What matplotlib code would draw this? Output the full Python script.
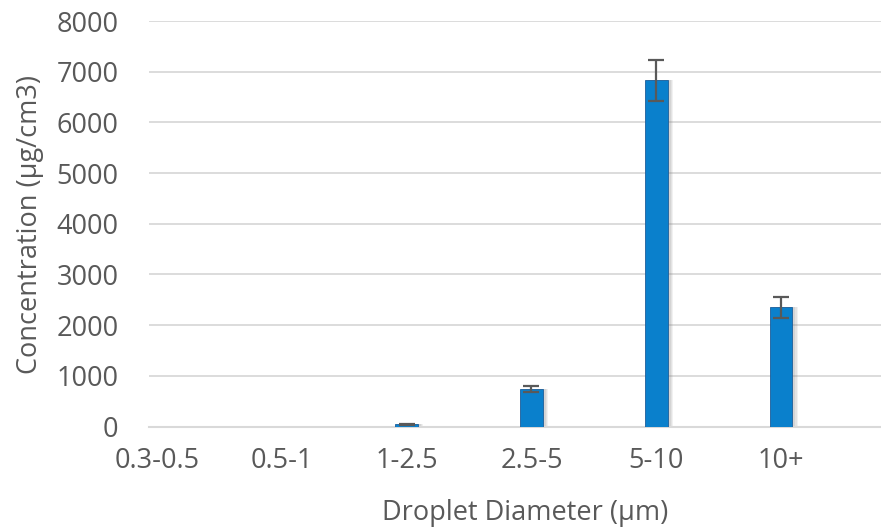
import matplotlib
matplotlib.use("Agg")
import matplotlib.pyplot as plt
import numpy as np

categories = ["0.3-0.5", "0.5-1", "1-2.5", "2.5-5", "5-10", "10+"]
values = [0, 0, 40, 745, 6830, 2350]
errors = [0, 0, 15, 55, 410, 200]
yticks = [0, 1000, 2000, 3000, 4000, 5000, 6000, 7000, 8000]

plt.rcParams['font.family'] = ['Open Sans', 'DejaVu Sans']
txt = '#595959'
fs = 19.5

fig = plt.figure(figsize=(8.81, 5.31), dpi=100)
ax = fig.add_axes([149/881, (531-426.5)/531, (881-149)/881, (426.5-21)/531])

x = np.arange(len(categories))
w = 0.18
# soft shadow
for k, a in [(0.045, 0.10), (0.035, 0.12), (0.025, 0.15)]:
    ax.bar(x + k, values, width=w, color='#7f7f7f', alpha=a, linewidth=0, zorder=2)
ax.bar(x, values, width=w, color='#0A80CC', edgecolor='#1C5E9A', linewidth=0.6, zorder=3)
mask = np.array(errors) > 0
ax.errorbar(x[mask], np.array(values)[mask], yerr=np.array(errors)[mask], fmt='none',
            ecolor='#595959', elinewidth=1.6, capsize=6, capthick=1.6, zorder=4)

ax.set_xlim(-0.064, 5.80)
ax.set_ylim(0, 8000)
ax.set_yticks(yticks)
ax.set_xticks(x)
ax.set_xticklabels(categories)
ax.yaxis.grid(True, color='#D9D9D9', linewidth=1.3, zorder=0)
ax.set_axisbelow(True)
for s in ['top', 'right', 'left']:
    ax.spines[s].set_visible(False)
ax.spines['bottom'].set_color('#D9D9D9')
ax.spines['bottom'].set_linewidth(1.5)
ax.tick_params(axis='both', length=0, colors=txt, labelsize=fs)
ax.tick_params(axis='y', pad=22)
ax.tick_params(axis='x', pad=15)

fig.text(30/881, 1 - 225/531, "Concentration (µg/cm3)", rotation=90, ha='center', va='center',
         color=txt, fontsize=fs)
fig.text(525/881, 1 - 513/531, "Droplet Diameter (µm)", ha='center', va='center',
         color=txt, fontsize=fs)

fig.savefig("out.png", dpi=100)
